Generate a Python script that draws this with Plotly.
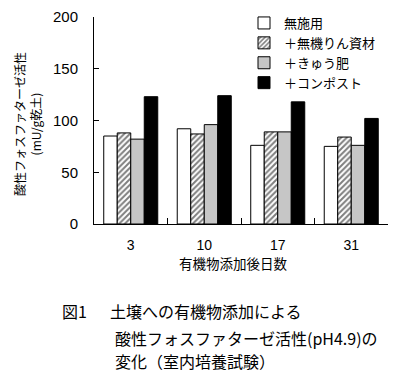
import plotly.graph_objects as go

days = ["3", "10", "17", "31"]
series_names = ["無施用", "＋無機りん資材", "＋きゅう肥", "＋コンポスト"]
v_none = [85, 92, 76, 75]
v_inorg = [88, 87, 89, 84]
v_manure = [82, 96, 89, 76]
v_compost = [123, 124, 118, 102]
y_ticks = [0, 50, 100, 150, 200]

# the page body has an 8px margin, so figure coords = screen coords - 8
OFF = 8
W, H = 402 - OFF, 379 - OFF
L, R, T, B = 94 - OFF, 388 - OFF, 17 - OFF, 224 - OFF  # plot area px (figure coords)


def xp(sx):
    return (sx - OFF - L) / (R - L)


def yp(sy):
    return (B - (sy - OFF)) / (B - T)


CJK = "Noto Sans CJK JP"
NUM = "Liberation Sans"

styles = [
    dict(color="white", pattern=None),
    dict(color="white", pattern=dict(shape="/", fgcolor="black", bgcolor="white", size=4, solidity=0.5)),
    dict(color="#c6c6c6", pattern=None),
    dict(color="black", pattern=None),
]
values = [v_none, v_inorg, v_manure, v_compost]

fig = go.Figure()
for name, vals, st in zip(series_names, values, styles):
    marker = dict(color=st["color"], line=dict(color="black", width=1))
    if st["pattern"]:
        marker["pattern"] = st["pattern"]
    fig.add_trace(go.Bar(x=days, y=vals, name=name, marker=marker))

fig.update_layout(
    width=W, height=H,
    margin=dict(l=L, r=W - R, t=T, b=H - B, autoexpand=False),
    paper_bgcolor="white", plot_bgcolor="white",
    barmode="group", bargap=0.265, bargroupgap=0,
    font=dict(family=CJK, color="black"),
    showlegend=True,
    legend=dict(
        xref="container", yref="container",
        x=(244 - OFF) / W, y=1 + 15 / H, xanchor="left", yanchor="top",
        font=dict(family=CJK, size=13, color="black"),
        bgcolor="rgba(0,0,0,0)", tracegroupgap=0,
    ),
    xaxis=dict(
        type="category", categoryorder="array", categoryarray=days,
        showline=True, linecolor="black", linewidth=1,
        ticks="inside", ticklen=6, tickcolor="black", tickson="boundaries",
        tickfont=dict(family=NUM, size=14, color="black"),
        ticklabelstandoff=8,
        showgrid=False, zeroline=False,
    ),
    yaxis=dict(
        range=[0, 200], tickvals=y_ticks,
        showline=True, linecolor="black", linewidth=1,
        ticks="inside", ticklen=5, tickcolor="black",
        tickfont=dict(family=NUM, size=15, color="black"),
        ticklabelstandoff=12,
        showgrid=False, zeroline=False,
    ),
)

ann = []
# axis titles
ann.append(dict(text="有機物添加後日数", x=xp(233), y=yp(263), xref="paper", yref="paper",
                showarrow=False, xanchor="center", yanchor="middle",
                font=dict(family=CJK, size=13.5, color="black")))
ann.append(dict(text="酸性フォスファターゼ活性<br>(mU/g乾土)", x=xp(27), y=yp(124),
                xref="paper", yref="paper", showarrow=False, textangle=-90,
                xanchor="center", yanchor="middle", font=dict(family=CJK, size=12, color="black")))
# caption
cap_font = dict(family=CJK, size=16, color="black")
ann.append(dict(text="図1", x=xp(60), y=yp(311), xref="paper", yref="paper", showarrow=False,
                xanchor="left", yanchor="middle", font=cap_font))
ann.append(dict(text="土壌への有機物添加による", x=xp(108), y=yp(311), xref="paper", yref="paper",
                showarrow=False, xanchor="left", yanchor="middle", font=cap_font))
ann.append(dict(text="酸性フォスファターゼ活性(pH4.9)の", x=xp(113), y=yp(338), xref="paper",
                yref="paper", showarrow=False, xanchor="left", yanchor="middle", font=cap_font))
ann.append(dict(text="変化（室内培養試験）", x=xp(113), y=yp(361), xref="paper", yref="paper",
                showarrow=False, xanchor="left", yanchor="middle", font=cap_font))
fig.update_layout(annotations=ann)

fig.write_html("out.html")
